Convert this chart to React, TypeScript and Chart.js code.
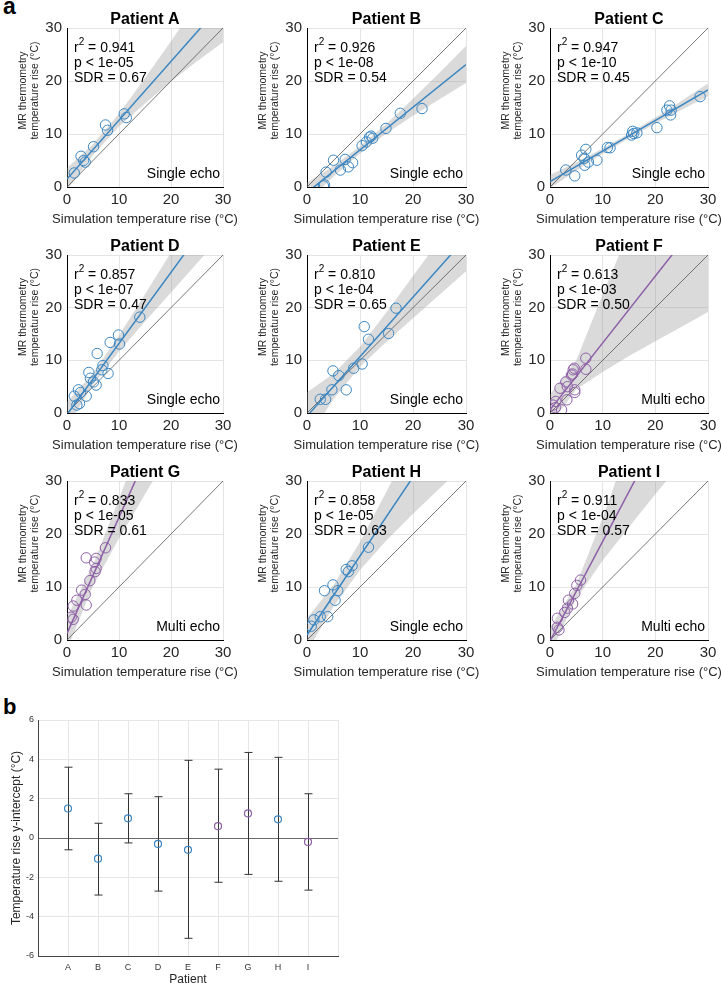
import React, { useEffect, useRef } from 'react';
import { Chart, registerables } from 'chart.js';
Chart.register(...registerables);

const FONT = '"Liberation Sans", Arial, Helvetica, sans-serif';
const BLUE = '#3b86c1';
const PURPLE = '#8d5fa6';

// ---------- panel a data ----------
const patientNames = ['A', 'B', 'C', 'D', 'E', 'F', 'G', 'H', 'I'];
const echoTypes = ['Single echo', 'Single echo', 'Single echo', 'Single echo', 'Single echo', 'Multi echo', 'Multi echo', 'Single echo', 'Multi echo'];
const r2Values = ['0.941', '0.926', '0.947', '0.857', '0.810', '0.613', '0.833', '0.858', '0.911'];
const pValues = ['1e-05', '1e-08', '1e-10', '1e-07', '1e-04', '1e-03', '1e-05', '1e-05', '1e-04'];
const sdrValues = ['0.67', '0.54', '0.45', '0.47', '0.65', '0.50', '0.61', '0.63', '0.57'];
const echoColors = [BLUE, BLUE, BLUE, BLUE, BLUE, PURPLE, PURPLE, BLUE, PURPLE];

const axisTicks = [0, 10, 20, 30];
const identityX = [0, 30];
const fitX = [0, 30];
const bandX = [0, 5, 10, 15, 20, 25, 30];

const simA = [1.4, 2.7, 3.2, 3.5, 5.1, 7.4, 7.8, 11.0, 11.4];
const mrA = [2.65, 5.8, 5.0, 4.7, 7.6, 11.7, 10.7, 13.8, 13.1];
const fitA = [1.5, 34.8];
const bandHiA = [3.6, 8.05, 13.8, 20.55, 27.5, 34.75, 42.3];
const bandLoA = [-0.6, 6.05, 11.4, 15.75, 19.9, 23.75, 27.3];

const simB = [3.1, 3.3, 3.6, 5.0, 6.3, 7.2, 7.8, 8.6, 10.4, 11.2, 11.8, 12.1, 12.4, 14.9, 17.6, 21.7];
const mrB = [0.2, 0.4, 2.8, 5.05, 3.2, 5.2, 3.8, 4.6, 7.8, 8.5, 9.4, 9.6, 9.2, 11.05, 13.9, 14.8];
const fitB = [-1.05, 23.1];
const bandHiB = [0.8, 3.98, 7.7, 11.93, 16.65, 21.58, 26.6];
const bandLoB = [-2.9, 1.98, 6.3, 10.13, 13.45, 16.58, 19.6];

const simC = [3.0, 4.7, 6.0, 6.5, 6.8, 6.6, 7.3, 8.9, 10.9, 11.4, 15.5, 15.7, 15.9, 16.5, 20.3, 22.2, 22.7, 22.9, 23.0, 28.5];
const mrC = [3.2, 2.1, 6.0, 5.4, 7.1, 4.1, 4.7, 5.05, 7.45, 7.4, 9.8, 10.5, 10.1, 10.2, 11.2, 14.5, 15.3, 13.6, 14.5, 17.05];
const fitC = [1.0, 18.31];
const bandHiC = [2.25, 4.69, 7.27, 10.11, 13.09, 16.28, 19.51];
const bandLoC = [-0.25, 3.09, 6.27, 9.21, 11.99, 14.58, 17.11];

const simD = [14.0, 9.9, 10.1, 8.3, 5.8, 6.9, 6.7, 7.9, 4.2, 4.5, 5.1, 5.6, 2.2, 2.6, 1.4, 3.7, 2.4, 1.9];
const mrD = [18.2, 14.8, 13.1, 13.4, 11.3, 9.0, 8.2, 7.5, 7.7, 6.6, 5.9, 5.3, 4.4, 3.9, 3.2, 3.2, 1.8, 1.5];
const fitD = [-0.3, 40.2];
const bandHiD = [2.1, 7.55, 14.7, 22.55, 30.5, 38.45, 46.5];
const bandLoD = [-2.7, 5.35, 11.7, 17.35, 22.9, 28.45, 33.9];

const simE = [16.8, 15.4, 10.8, 11.6, 10.4, 8.8, 6.0, 4.9, 7.4, 4.7, 2.5, 3.5];
const mrE = [19.9, 15.1, 16.4, 14.0, 9.3, 8.5, 7.1, 8.0, 4.4, 4.4, 2.6, 2.6];
const fitE = [-0.6, 33.3];
const bandHiE = [3.95, 7.45, 12.6, 19.15, 26.0, 32.85, 39.7];
const bandLoE = [-5.15, 2.65, 8.8, 13.55, 18.0, 22.45, 26.9];

const simF = [6.8, 6.8, 4.6, 4.4, 4.3, 4.1, 3.0, 1.9, 3.3, 4.7, 4.7, 3.2, 1.1, 0.6, 1.0, 2.2];
const mrF = [10.4, 8.3, 8.5, 8.2, 7.4, 7.2, 5.9, 4.7, 5.0, 4.4, 3.9, 2.5, 2.2, 1.5, 1.0, 0.6];
const fitF = [0.6, 38.7];
const bandHiF = [3.5, 10.0, 22.5, 34.5, 46.5, 58.5, 70.5];
const bandLoF = [-2.25, 4.5, 7.8, 10.8, 13.6, 16.4, 19.2];

const simG = [7.4, 3.7, 5.6, 5.3, 5.6, 5.4, 4.4, 2.8, 3.5, 3.7, 1.9, 1.2, 0.8, 1.2];
const mrG = [17.4, 15.5, 15.4, 14.7, 13.5, 12.9, 11.2, 9.4, 8.6, 6.6, 7.5, 6.4, 4.3, 3.9];
const fitG = [1.25, 66.95];
const bandHiG = [4.35, 14.2, 26.6, 39.6, 52.7, 65.8, 78.9];
const bandLoG = [-1.85, 10.2, 19.2, 27.5, 35.8, 44.1, 52.4];

const simH = [11.6, 8.5, 7.4, 7.8, 4.9, 3.3, 5.8, 5.3, 1.3, 2.5, 3.9, 0.8];
const mrH = [17.5, 14.0, 13.3, 12.9, 10.4, 9.3, 9.3, 7.5, 3.8, 4.4, 4.4, 2.6];
const fitH = [0.95, 45.65];
const bandHiH = [4.1, 10.4, 18.5, 28.0, 38.0, 48.0, 58.0];
const bandLoH = [-2.2, 6.3, 13.2, 18.8, 23.8, 28.6, 33.2];

const simI = [5.8, 5.1, 4.7, 4.3, 3.5, 3.3, 2.8, 1.4, 1.4, 1.7];
const mrI = [11.3, 10.3, 8.8, 6.8, 7.5, 6.0, 5.2, 4.1, 2.4, 1.9];
const fitI = [-0.2, 56.2];
const bandHiI = [2.25, 10.5, 23.0, 37.0, 51.0, 65.0, 79.0];
const bandLoI = [-2.65, 7.8, 15.0, 21.3, 27.5, 33.5, 39.5];

// ---------- panel b data ----------
const interceptValues = [1.5, -1.05, 1.0, -0.3, -0.6, 0.6, 1.25, 0.95, -0.2];
const interceptLow = [-0.6, -2.9, -0.25, -2.7, -5.1, -2.25, -1.85, -2.2, -2.65];
const interceptHigh = [3.6, 0.75, 2.25, 2.1, 3.95, 3.5, 4.35, 4.1, 2.25];
const interceptTicks = [-6, -4, -2, 0, 2, 4, 6];

const panelSim = [simA, simB, simC, simD, simE, simF, simG, simH, simI];
const panelMr = [mrA, mrB, mrC, mrD, mrE, mrF, mrG, mrH, mrI];
const panelFit = [fitA, fitB, fitC, fitD, fitE, fitF, fitG, fitH, fitI];
const panelHi = [bandHiA, bandHiB, bandHiC, bandHiD, bandHiE, bandHiF, bandHiG, bandHiH, bandHiI];
const panelLo = [bandLoA, bandLoB, bandLoC, bandLoD, bandLoE, bandLoF, bandLoG, bandLoH, bandLoI];

// layout (pixel frame of each plot area)
const colLeft = [67, 307, 550];
const colWidth = [156, 159, 158];
const rowTop = [28, 255, 481];
const rowHeight = [159, 158, 159];
const PAD_L = 67, PAD_T = 28, PAD_R = 22, PAD_B = 40;

const toXY = (xs: number[], ys: number[]) => xs.map((x, k) => ({ x, y: ys[k] }));

function panelTextPlugin(i: number) {
  return {
    id: 'panelText',
    afterDraw(chart: any) {
      const { ctx, chartArea: a } = chart;
      const cx = (a.left + a.right) / 2;
      ctx.save();
      ctx.fillStyle = '#000';
      ctx.textBaseline = 'middle';
      ctx.textAlign = 'center';
      ctx.font = `bold 16px ${FONT}`;
      ctx.fillText('Patient ' + patientNames[i], cx, a.top - 8);

      ctx.textAlign = 'left';
      ctx.font = `14px ${FONT}`;
      const x0 = a.left + 7;
      ctx.fillText('r', x0, a.top + 20);
      const rw = ctx.measureText('r').width;
      ctx.font = `10px ${FONT}`;
      ctx.fillText('2', x0 + rw, a.top + 14);
      const tw = ctx.measureText('2').width;
      ctx.font = `14px ${FONT}`;
      ctx.fillText(' = ' + r2Values[i], x0 + rw + tw, a.top + 20);
      ctx.fillText('p < ' + pValues[i], x0, a.top + 35);
      ctx.fillText('SDR = ' + sdrValues[i], x0, a.top + 50);

      ctx.textAlign = 'right';
      ctx.fillText(echoTypes[i], a.right - 3, a.bottom - 13);

      ctx.fillStyle = '#262626';
      ctx.textAlign = 'center';
      ctx.font = `13px ${FONT}`;
      ctx.fillText('Simulation temperature rise (\u00B0C)', cx, a.bottom + 32);

      ctx.translate(a.left - 44, (a.top + a.bottom) / 2 - 17);
      ctx.rotate(-Math.PI / 2);
      ctx.font = `10.5px ${FONT}`;
      ctx.fillText('MR thermometry', 0, 0);
      ctx.fillText('temperature rise (\u00B0C)', 0, 12);
      ctx.restore();
    },
  };
}

function panelConfig(i: number): any {
  const color = echoColors[i];
  const axisCommon = (isX: boolean) => ({
    type: 'linear',
    min: 0,
    max: 30,
    afterBuildTicks: (s: any) => { s.ticks = axisTicks.map((v) => ({ value: v })); },
    ticks: { color: '#262626', font: { family: FONT, size: 15 }, padding: isX ? 4 : 5, maxRotation: 0, autoSkip: false },
    grid: { color: '#e4e4e4', lineWidth: 1, drawTicks: false },
    border: { color: '#000', width: 1 },
    afterFit: (s: any) => { if (isX) s.height = PAD_B; else s.width = PAD_L; },
  });
  return {
    type: 'line',
    data: {
      datasets: [
        {
          data: toXY(panelSim[i], panelMr[i]),
          showLine: false,
          pointRadius: 5.2,
          pointHoverRadius: 5.2,
          pointBorderWidth: 1,
          pointBorderColor: color,
          pointBackgroundColor: 'rgba(0,0,0,0)',
        },
        { data: toXY(fitX, panelFit[i]), borderColor: color, borderWidth: 1.5, pointRadius: 0, clip: 0 },
        { data: toXY(identityX, identityX), borderColor: '#555', borderWidth: 0.8, pointRadius: 0, clip: 0 },
        {
          data: toXY(bandX, panelHi[i]),
          borderWidth: 0,
          borderColor: 'rgba(0,0,0,0)',
          pointRadius: 0,
          fill: '+1',
          backgroundColor: 'rgba(150,150,150,0.35)',
          clip: 0,
        },
        { data: toXY(bandX, panelLo[i]), borderWidth: 0, borderColor: 'rgba(0,0,0,0)', pointRadius: 0, fill: false, clip: 0 },
      ],
    },
    options: {
      responsive: false,
      devicePixelRatio: 1,
      animation: false,
      layout: { padding: { top: PAD_T, right: PAD_R, left: 0, bottom: 0 } },
      plugins: { legend: { display: false }, tooltip: { enabled: false }, title: { display: false } },
      scales: { x: axisCommon(true), y: axisCommon(false) },
    },
    plugins: [panelTextPlugin(i)],
  };
}

const interceptPlugin = {
  id: 'interceptExtras',
  beforeDatasetsDraw(chart: any) {
    const { ctx, scales } = chart;
    ctx.save();
    ctx.strokeStyle = '#333';
    ctx.lineWidth = 1;
    interceptLow.forEach((lo, k) => {
      const px = Math.round(scales.x.getPixelForValue(k + 1)) + 0.5;
      const p1 = scales.y.getPixelForValue(lo);
      const p2 = scales.y.getPixelForValue(interceptHigh[k]);
      ctx.beginPath();
      ctx.moveTo(px, p1);
      ctx.lineTo(px, p2);
      ctx.moveTo(px - 4, p1);
      ctx.lineTo(px + 4, p1);
      ctx.moveTo(px - 4, p2);
      ctx.lineTo(px + 4, p2);
      ctx.stroke();
    });
    ctx.restore();
  },
  afterDraw(chart: any) {
    const { ctx, chartArea: a } = chart;
    ctx.save();
    ctx.fillStyle = '#262626';
    ctx.textAlign = 'center';
    ctx.textBaseline = 'middle';
    ctx.font = `12px ${FONT}`;
    ctx.fillText('Patient', (a.left + a.right) / 2, a.bottom + 24);
    ctx.translate(17, (a.top + a.bottom) / 2);
    ctx.rotate(-Math.PI / 2);
    ctx.fillText('Temperature rise y-intercept (\u00B0C)', 0, 0);
    ctx.restore();
  },
};

function interceptConfig(): any {
  return {
    type: 'line',
    data: {
      datasets: [
        {
          data: interceptValues.map((v, k) => ({ x: k + 1, y: v })),
          showLine: false,
          pointRadius: 3.5,
          pointHoverRadius: 3.5,
          pointBorderWidth: 1.2,
          pointBorderColor: echoColors,
          pointBackgroundColor: 'rgba(0,0,0,0)',
        },
      ],
    },
    options: {
      responsive: false,
      devicePixelRatio: 1,
      animation: false,
      layout: { padding: { top: 30, right: 12, left: 0, bottom: 0 } },
      plugins: { legend: { display: false }, tooltip: { enabled: false } },
      scales: {
        x: {
          type: 'linear',
          min: 0,
          max: 10,
          afterBuildTicks: (s: any) => { s.ticks = [0, 1, 2, 3, 4, 5, 6, 7, 8, 9, 10].map((v) => ({ value: v })); },
          ticks: {
            color: '#333',
            font: { family: FONT, size: 9 },
            padding: 6,
            maxRotation: 0,
            autoSkip: false,
            callback: (v: number) => (v >= 1 && v <= 9 ? patientNames[v - 1] : ''),
          },
          grid: { color: '#e6e6e6', drawTicks: false },
          border: { color: '#444', width: 1 },
          afterFit: (s: any) => { s.height = 29; },
        },
        y: {
          type: 'linear',
          min: -6,
          max: 6,
          afterBuildTicks: (s: any) => { s.ticks = interceptTicks.map((v) => ({ value: v })); },
          ticks: { color: '#333', font: { family: FONT, size: 9 }, padding: 4, autoSkip: false },
          grid: {
            drawTicks: false,
            color: (c: any) => (c.tick && c.tick.value === 0 ? '#6b6b6b' : '#e6e6e6'),
          },
          border: { color: '#444', width: 1 },
          afterFit: (s: any) => { s.width = 38; },
        },
      },
    },
    plugins: [interceptPlugin],
  };
}

function ChartCanvas(props: { left: number; top: number; width: number; height: number; make: () => any }) {
  const ref = useRef<HTMLCanvasElement>(null);
  useEffect(() => {
    const chart = new Chart(ref.current as HTMLCanvasElement, props.make());
    return () => chart.destroy();
  }, []);
  const { left, top, width, height } = props;
  return (
    <canvas
      ref={ref}
      width={width}
      height={height}
      style={{ position: 'absolute', left, top, width, height, display: 'block' }}
    />
  );
}

export default function App() {
  const panels = patientNames.map((_, i) => {
    const c = i % 3;
    const r = Math.floor(i / 3);
    const left = colLeft[c] - PAD_L;
    const top = rowTop[r] - PAD_T;
    const width = colWidth[c] + PAD_L + PAD_R;
    const height = rowHeight[r] + PAD_T + PAD_B;
    return <ChartCanvas key={i} left={left} top={top} width={width} height={height} make={() => panelConfig(i)} />;
  });
  return (
    <div
      style={{
        position: 'absolute',
        left: 0,
        top: 0,
        width: 721,
        height: 985,
        background: '#fff',
        overflow: 'hidden',
        fontFamily: FONT,
      }}
    >
      <div style={{ position: 'absolute', left: 3, top: -5, fontSize: 23, fontWeight: 'bold', lineHeight: 1 }}>a</div>
      {panels}
      <div style={{ position: 'absolute', left: 3, top: 696, fontSize: 22, fontWeight: 'bold', lineHeight: 1 }}>b</div>
      <ChartCanvas left={0} top={690} width={350} height={295} make={interceptConfig} />
    </div>
  );
}
